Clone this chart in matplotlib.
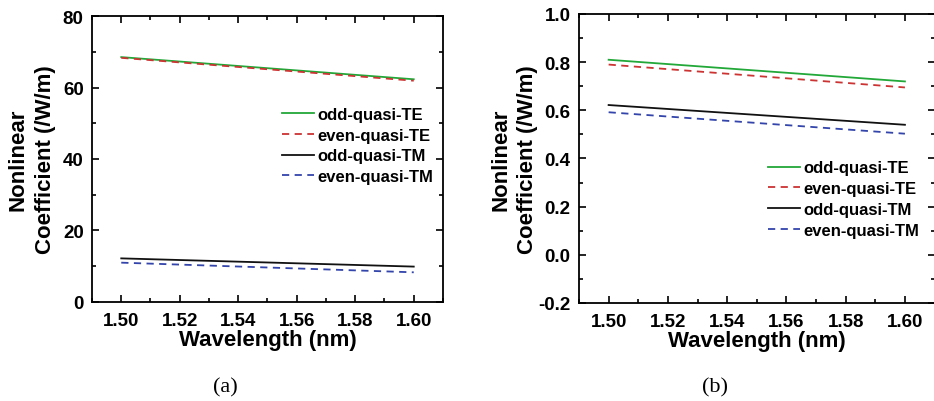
import numpy as np
import matplotlib
matplotlib.use("Agg")
import matplotlib.pyplot as plt
from matplotlib.ticker import MultipleLocator, FormatStrFormatter

plt.rcParams['font.family'] = ['Liberation Sans', 'DejaVu Sans']
plt.rcParams['font.weight'] = 'bold'

wavelength = [1.50, 1.60]

# panel (a)
a_odd_te = [68.5, 62.3]
a_even_te = [68.3, 61.9]
a_odd_tm = [12.2, 9.9]
a_even_tm = [11.0, 8.3]

# panel (b)
b_odd_te = [0.810, 0.720]
b_even_te = [0.790, 0.695]
b_odd_tm = [0.622, 0.540]
b_even_tm = [0.592, 0.503]

labels = ["odd-quasi-TE", "even-quasi-TE", "odd-quasi-TM", "even-quasi-TM"]
colors = ["#22a838", "#cc3333", "#111111", "#3344aa"]
styles = ["-", (0, (4, 3)), "-", (0, (4, 3))]

fig = plt.figure(figsize=(9.34, 4.02), dpi=100)
ax1 = fig.add_axes([0.0985, 0.2463, 0.3758, 0.7114])
ax2 = fig.add_axes([0.6199, 0.2438, 0.3807, 0.7189])


def style_axis(ax, ylim, ymaj, ymin, lpad):
    ax.set_xlim(1.49, 1.61)
    ax.set_ylim(*ylim)
    ax.xaxis.set_major_locator(MultipleLocator(0.02))
    ax.xaxis.set_minor_locator(MultipleLocator(0.01))
    ax.yaxis.set_major_locator(MultipleLocator(ymaj))
    ax.yaxis.set_minor_locator(MultipleLocator(ymin))
    ax.xaxis.set_major_formatter(FormatStrFormatter('%.2f'))
    ax.tick_params(which='both', direction='in', top=True, right=True, width=1.2)
    ax.tick_params(which='major', length=5, labelsize=13.5)
    ax.tick_params(axis='x', which='major', pad=7)
    ax.tick_params(axis='y', which='major', pad=6)
    ax.tick_params(which='minor', length=3)
    for s in ax.spines.values():
        s.set_linewidth(1.3)
    ax.set_xlabel("Wavelength (nm)", fontsize=16, fontweight='bold', labelpad=0)
    ax.set_ylabel("Nonlinear\nCoefficient (/W/m)", fontsize=16, fontweight='bold',
                  linespacing=1.4, labelpad=lpad)


series_a = [a_odd_te, a_even_te, a_odd_tm, a_even_tm]
series_b = [b_odd_te, b_even_te, b_odd_tm, b_even_tm]
for ys, lab, c, ls in zip(series_a, labels, colors, styles):
    ax1.plot(wavelength, ys, color=c, linestyle=ls, lw=1.3, label=lab)
for ys, lab, c, ls in zip(series_b, labels, colors, styles):
    ax2.plot(wavelength, ys, color=c, linestyle=ls, lw=1.3, label=lab)

style_axis(ax1, (0, 80), 20, 10, 5)
style_axis(ax2, (-0.2, 1.0), 0.2, 0.1, 0)
ax2.yaxis.set_major_formatter(FormatStrFormatter('%.1f'))

ax1.legend(loc='upper left', bbox_to_anchor=(0.5, 0.735), frameon=False,
           fontsize=12, handlelength=1.9, handletextpad=0.2, labelspacing=0.35)
ax2.legend(loc='upper left', bbox_to_anchor=(0.49, 0.545), frameon=False,
           fontsize=12, handlelength=1.9, handletextpad=0.2, labelspacing=0.35)

fig.text(0.241, 0.035, "(a)", fontsize=16, family='Liberation Serif',
         fontweight='normal', ha='center', va='center')
fig.text(0.765, 0.035, "(b)", fontsize=16, family='Liberation Serif',
         fontweight='normal', ha='center', va='center')

fig.savefig("out.png", dpi=100)
